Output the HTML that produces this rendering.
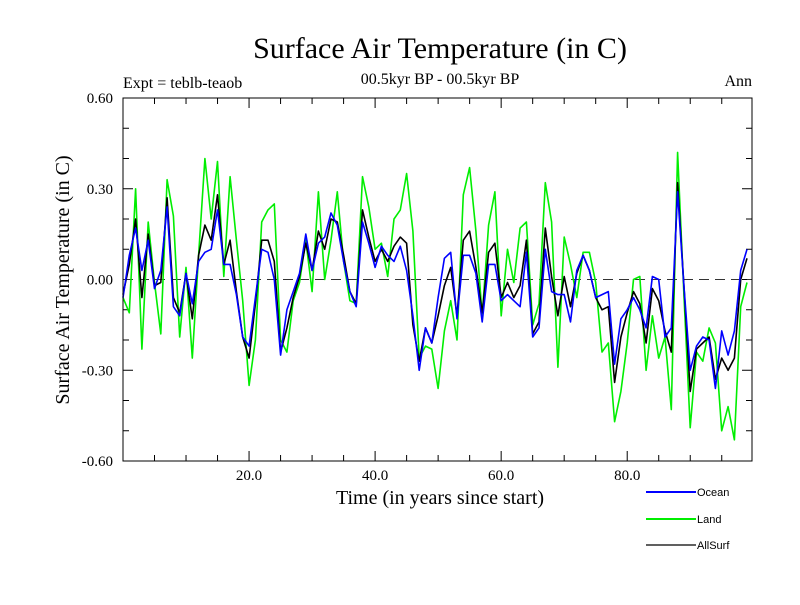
<!DOCTYPE html>
<html><head><meta charset="utf-8"><style>
body{margin:0;background:#fff}
svg text{font-family:"Liberation Serif",serif}
</style></head><body>
<svg id="chart" width="800" height="600" xmlns="http://www.w3.org/2000/svg">
<text x="440" y="58" font-size="30" text-anchor="middle">Surface Air Temperature (in C)</text>
<text x="440" y="84" font-size="16" text-anchor="middle">00.5kyr BP - 00.5kyr BP</text>
<text x="123" y="88" font-size="16">Expt = teblb-teaob</text>
<text x="752" y="86" font-size="16" text-anchor="end">Ann</text>
<text transform="translate(69,280) rotate(-90)" font-size="20" text-anchor="middle">Surface Air Temperature (in C)</text>
<text x="440" y="504" font-size="20" text-anchor="middle">Time (in years since start)</text>
<g id="axes"></g>
<g id="series"></g>
<rect x="123" y="98" width="629" height="363" fill="none" stroke="#000" stroke-width="1"/>
<g font-size="11">
 <g><line x1="646" y1="492" x2="696" y2="492" stroke="#0000ff" stroke-width="2"/><text x="697" y="496" style="font-family:'Liberation Sans',sans-serif" font-size="11">Ocean</text></g>
 <g><line x1="646" y1="519" x2="696" y2="519" stroke="#00ee00" stroke-width="2"/><text x="697" y="523" style="font-family:'Liberation Sans',sans-serif" font-size="11">Land</text></g>
 <g><line x1="646" y1="545" x2="696" y2="545" stroke="#000" stroke-width="1.2"/><text x="697" y="549" style="font-family:'Liberation Sans',sans-serif" font-size="11">AllSurf</text></g>
</g>
</svg>
<script>
const yTicks=[0.60,0.30,0.00,-0.30,-0.60];
const yTickLabels=["0.60","0.30","0.00","-0.30","-0.60"];
const xTicks=[20,40,60,80];
const xTickLabels=["20.0","40.0","60.0","80.0"];
const ocean=[-0.06,0.08,0.17,0.03,0.13,-0.03,0.03,0.24,-0.09,-0.12,0.02,-0.08,0.06,0.09,0.10,0.23,0.05,0.05,-0.05,-0.19,-0.22,-0.06,0.10,0.09,0.00,-0.25,
-0.10,-0.04,0.02,0.15,0.03,0.12,0.14,0.22,0.18,0.06,-0.04,-0.09,0.19,0.12,0.04,0.11,0.08,0.06,0.11,0.03,-0.12,-0.30,-0.16,-0.21,-0.06,0.07,
0.09,-0.13,0.08,0.08,0.02,-0.14,0.05,0.05,-0.07,-0.05,-0.07,-0.09,0.09,-0.19,-0.16,0.10,-0.04,-0.05,-0.05,-0.14,0.03,0.08,0.03,-0.06,-0.05,
-0.04,-0.28,-0.13,-0.10,-0.06,-0.10,-0.16,0.01,0.00,-0.19,-0.16,0.29,-0.02,-0.30,-0.22,-0.19,-0.20,-0.36,-0.17,-0.25,-0.17,0.03,0.10];
const land=[-0.06,-0.11,0.30,-0.23,0.19,-0.01,-0.18,0.33,0.21,-0.19,0.04,-0.26,0.08,0.40,0.20,0.39,0.01,0.34,0.13,-0.07,-0.35,-0.20,0.19,0.23,0.25,-0.20,
-0.24,-0.07,-0.01,0.13,-0.04,0.29,0.00,0.13,0.29,0.06,-0.07,-0.08,0.34,0.24,0.10,0.12,0.01,0.20,0.23,0.35,0.16,-0.26,-0.22,-0.23,-0.36,-0.17,
-0.07,-0.20,0.28,0.37,0.16,-0.12,0.18,0.29,-0.12,0.10,-0.01,0.17,0.19,-0.15,-0.08,0.32,0.19,-0.29,0.14,0.05,-0.06,0.09,0.09,-0.01,-0.24,
-0.21,-0.47,-0.37,-0.21,0.00,0.01,-0.30,-0.12,-0.26,-0.19,-0.43,0.42,-0.05,-0.49,-0.24,-0.27,-0.16,-0.21,-0.50,-0.42,-0.53,-0.09,-0.01];
const allSurf=[-0.05,0.05,0.20,-0.06,0.15,-0.02,-0.01,0.27,-0.06,-0.11,0.02,-0.13,0.08,0.18,0.13,0.28,0.05,0.13,-0.04,-0.19,-0.26,-0.08,0.13,0.13,0.06,-0.24,
-0.16,-0.06,0.01,0.12,0.03,0.16,0.10,0.20,0.19,0.08,-0.04,-0.08,0.23,0.14,0.06,0.10,0.06,0.11,0.14,0.12,-0.15,-0.27,-0.16,-0.21,-0.12,-0.02,
0.04,-0.12,0.13,0.16,0.04,-0.11,0.09,0.12,-0.06,-0.01,-0.06,-0.02,0.13,-0.18,-0.14,0.17,0.01,-0.12,0.01,-0.09,0.02,0.08,0.03,-0.06,-0.10,
-0.09,-0.34,-0.19,-0.11,-0.04,-0.08,-0.21,-0.03,-0.07,-0.17,-0.24,0.32,-0.02,-0.37,-0.23,-0.21,-0.19,-0.33,-0.26,-0.30,-0.26,0.00,0.07];
const NS="http://www.w3.org/2000/svg";
const X0=123,X1=752,Y0=98,Y1=461;
function xs(v){return X0+v*(X1-X0)/99.8;}
function ys(v){return Y1-(v+0.6)*(Y1-Y0)/1.2;}
function mk(tag,attrs,parent){const e=document.createElementNS(NS,tag);for(const k in attrs)e.setAttribute(k,attrs[k]);parent.appendChild(e);return e;}
const ax=document.getElementById('axes');
for(let i=-6;i<=6;i++){const y=ys(i/10);const major=(i%3===0);const L=major?10:6;
 const t1=mk('line',{x1:X0,y1:y,x2:X0+L,y2:y,stroke:'#000'},ax);
 
 
 const t2=mk('line',{x1:X1,y1:y,x2:X1-L,y2:y,stroke:'#000'},ax);
 
 }
for(let v=5;v<100;v+=5){const x=xs(v);const major=(v%20===0);const L=major?10:6;
 const t1=mk('line',{x1:x,y1:Y1,x2:x,y2:Y1-L,stroke:'#000'},ax);
 
 
 const t2=mk('line',{x1:x,y1:Y0,x2:x,y2:Y0+L,stroke:'#000'},ax);
 
 }
yTicks.forEach((v,i)=>{const t=mk('text',{x:113,y:ys(v)+5,'font-size':15,'text-anchor':'end'},ax);t.textContent=yTickLabels[i];
 
 });
xTicks.forEach((v,i)=>{const t=mk('text',{x:xs(v),y:480,'font-size':15,'text-anchor':'middle'},ax);t.textContent=xTickLabels[i];
 
 });
const z=mk('line',{x1:X0,y1:ys(0),x2:X1,y2:ys(0),stroke:'#333','stroke-dasharray':'10,6','stroke-width':1},ax);


const sg=document.getElementById('series');
function draw(data,color,w,name){const pts=data.map((v,i)=>xs(i).toFixed(1)+','+ys(v).toFixed(1)).join(' ');
 const p=mk('polyline',{points:pts,fill:'none',stroke:color,'stroke-width':w,'stroke-linejoin':'round'},sg);
 
 }
draw(land,'#00ee00',1.6,'land-line');
draw(allSurf,'#000000',1.6,'allsurf-line');
draw(ocean,'#0000ff',1.6,'ocean-line');
</script>
</body></html>
